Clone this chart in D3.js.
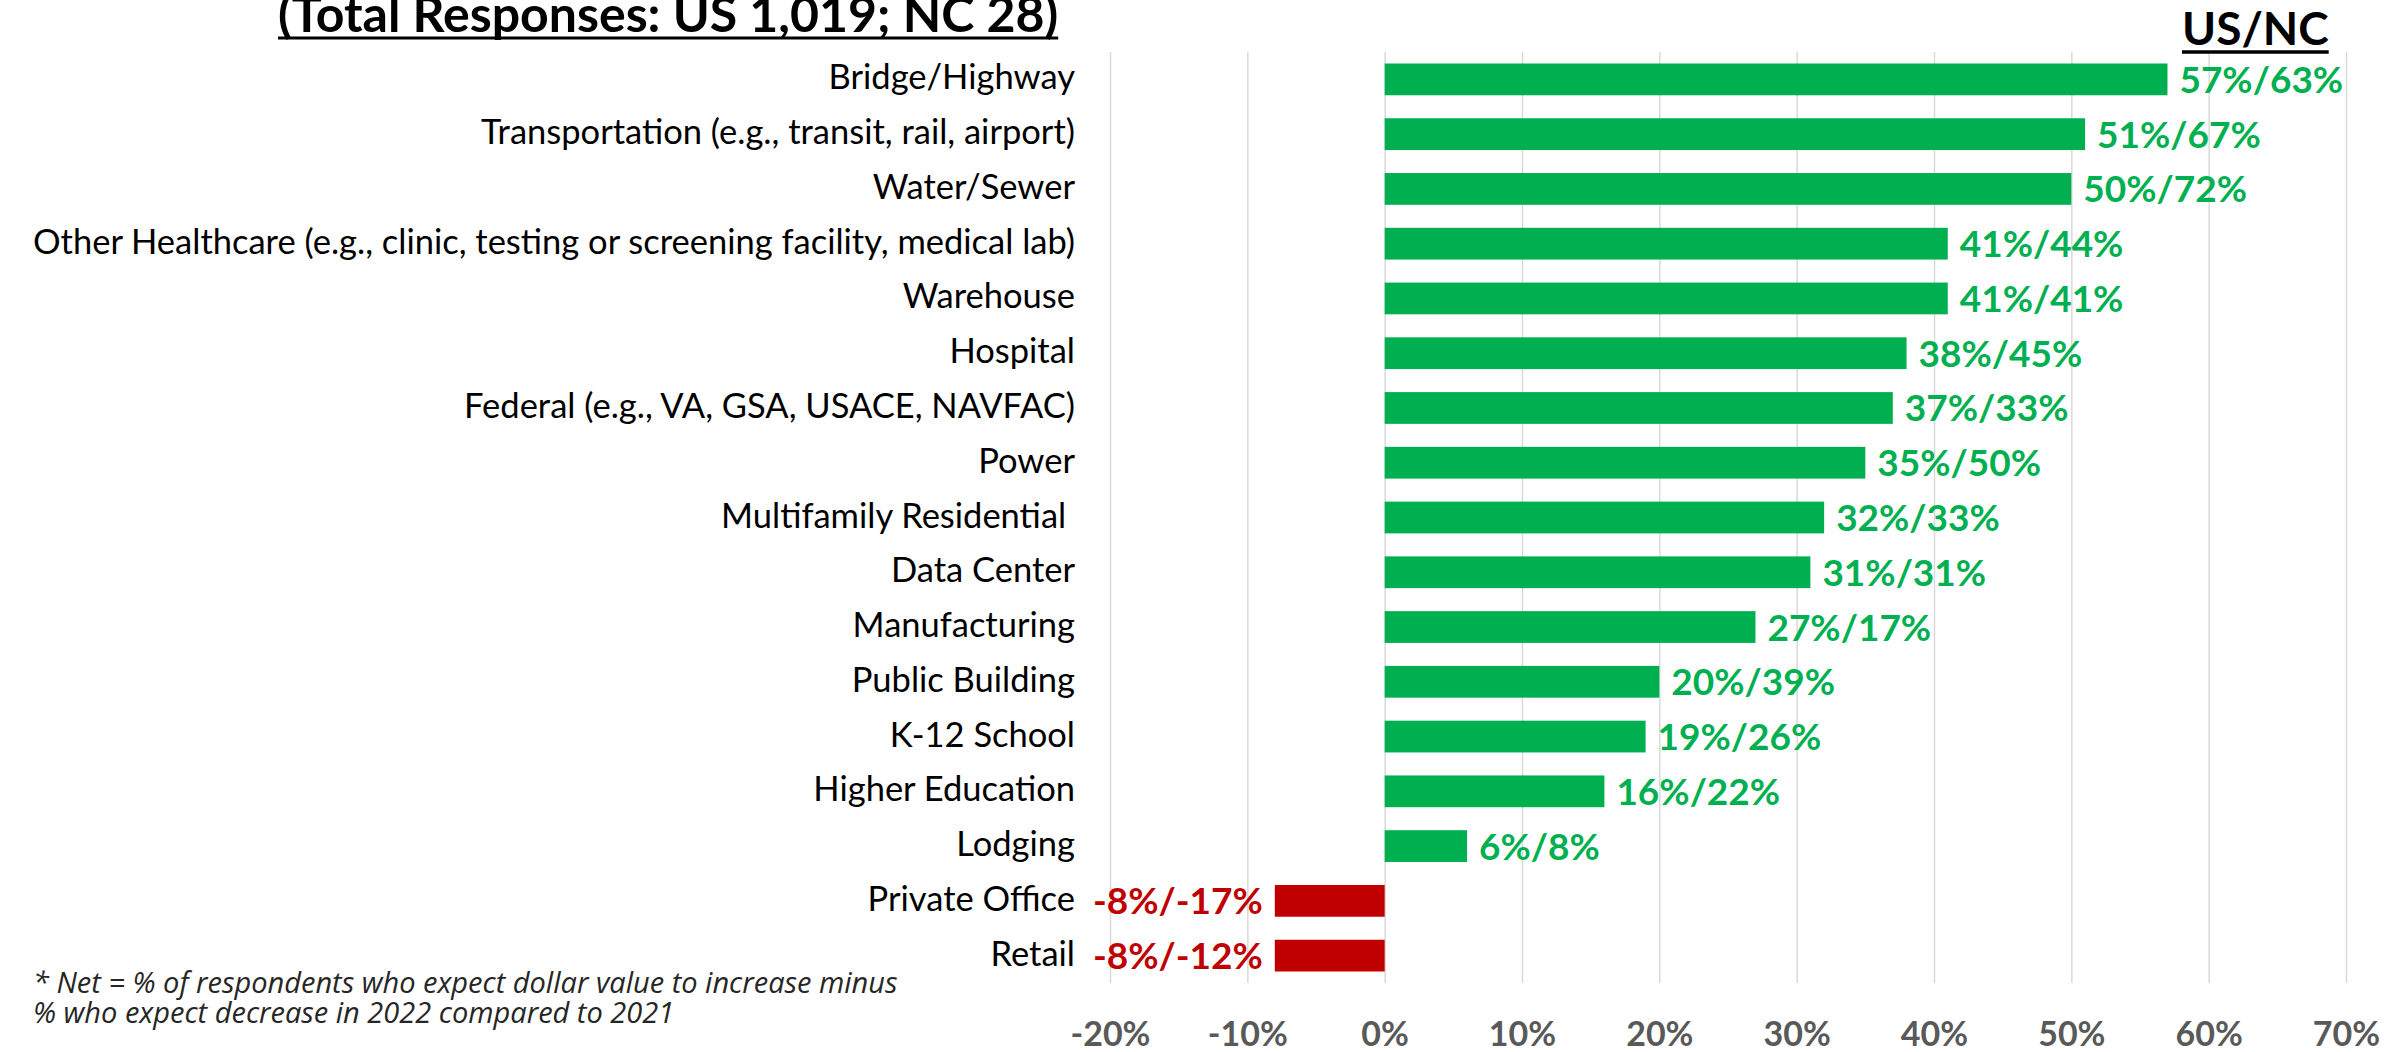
<!DOCTYPE html>
<html>
<head>
<meta charset="utf-8">
<script src="https://cdn.jsdelivr.net/npm/d3@7"></script>
<style>
  html, body { margin: 0; padding: 0; background: #fff; }
  svg { display: block; font-family: Lato, "Open Sans", sans-serif; }
</style>
</head>
<body>
<svg id="chart" width="2407" height="1052"></svg>
<script>
// Chart data
const categories = [
  'Bridge/Highway',
  'Transportation (e.g., transit, rail, airport)',
  'Water/Sewer',
  'Other Healthcare (e.g., clinic, testing or screening facility, medical lab)',
  'Warehouse',
  'Hospital',
  'Federal (e.g., VA, GSA, USACE, NAVFAC)',
  'Power',
  'Multifamily Residential ',
  'Data Center',
  'Manufacturing',
  'Public Building',
  'K-12 School',
  'Higher Education',
  'Lodging',
  'Private Office',
  'Retail'
];
const usValues = [57, 51, 50, 41, 41, 38, 37, 35, 32, 31, 27, 20, 19, 16, 6, -8, -8];
const ncValues = [63, 67, 72, 44, 41, 45, 33, 50, 33, 31, 17, 39, 26, 22, 8, -17, -12];
const tickValues = [-0.2, -0.1, 0, 0.1, 0.2, 0.3, 0.4, 0.5, 0.6, 0.7];
const titleText = '(Total Responses: US 1,019; NC 28)';
const seriesHeader = 'US/NC';
const footnote = [
  '* Net = % of respondents who expect dollar value to increase minus',
  '% who expect decrease in 2022 compared to 2021'
];

const rows = categories.map((name, i) => ({ name, us: usValues[i], nc: ncValues[i] }));

const GREEN = '#00B050';
const RED = '#C00000';

// plain hyphen for negatives, like the original
const pct = d3.formatLocale({ decimal: '.', thousands: ',', grouping: [3], currency: ['', ''], minus: '-' }).format('.0%');

const svg = d3.select('#chart');

// Scales
const x = d3.scaleLinear().domain([-0.2, 0.7]).range([1110, 2346]);
const y = d3.scaleBand()
  .domain(categories)
  .range([52, 983])
  .paddingInner(0.42)
  .paddingOuter(0.21);

// Gridlines
svg.append('g')
  .attr('transform', 'translate(0,983)')
  .call(d3.axisBottom(x).tickValues(tickValues).tickSize(-931).tickFormat(''))
  .call(g => g.select('.domain').remove())
  .call(g => g.selectAll('line').attr('stroke', '#d9d9d9').attr('stroke-width', 1.5));

// Axis labels
svg.append('g')
  .attr('transform', 'translate(0,983)')
  .call(d3.axisBottom(x).tickValues(tickValues).tickSize(0).tickFormat(pct))
  .call(g => g.select('.domain').remove())
  .call(g => g.selectAll('text')
    .attr('y', 63)
    .attr('dy', 0)
    .attr('fill', '#595959')
    .attr('font-family', 'Lato, sans-serif')
    .attr('font-weight', 'bold')
    .attr('font-size', 34));

// Bars
svg.append('g')
  .selectAll('rect')
  .data(rows)
  .join('rect')
  .attr('x', d => x(Math.min(0, d.us / 100)))
  .attr('width', d => Math.abs(x(d.us / 100) - x(0)))
  .attr('y', d => y(d.name))
  .attr('height', y.bandwidth())
  .attr('fill', d => d.us < 0 ? RED : GREEN);

// Value labels
svg.append('g')
  .selectAll('text')
  .data(rows)
  .join('text')
  .attr('x', d => d.us < 0 ? x(d.us / 100) - 12 : x(d.us / 100) + 12)
  .attr('y', d => y(d.name) + y.bandwidth() / 2 + 13.5)
  .attr('text-anchor', d => d.us < 0 ? 'end' : 'start')
  .attr('font-weight', 'bold')
  .attr('font-size', 37)
  .attr('fill', d => d.us < 0 ? RED : GREEN)
  .text(d => `${d.us}%/${d.nc}%`);

// Category labels
svg.append('g')
  .selectAll('text')
  .data(rows)
  .join('text')
  .attr('x', 1075)
  .attr('y', d => y(d.name) + y.bandwidth() / 2 + 10)
  .attr('text-anchor', 'end')
  .attr('font-size', 34.5)
  .attr('fill', '#000')
  .style('white-space', 'pre')
  .text(d => d.name);

// Title (clipped at top, underlined)
const title = svg.append('text')
  .attr('x', 278)
  .attr('y', 32)
  .attr('font-weight', 'bold')
  .attr('font-size', 50)
  .attr('fill', '#000')
  .text(titleText);
const tw = title.node().getComputedTextLength();
svg.append('line')
  .attr('x1', 278).attr('x2', 278 + tw)
  .attr('y1', 38).attr('y2', 38)
  .attr('stroke', '#000').attr('stroke-width', 3);

// Series header
const header = svg.append('text')
  .attr('x', 2182)
  .attr('y', 45)
  .attr('font-weight', 'bold')
  .attr('font-size', 46)
  .attr('fill', '#000')
  .text(seriesHeader);
const hw = header.node().getComputedTextLength();
svg.append('line')
  .attr('x1', 2182).attr('x2', 2182 + hw)
  .attr('y1', 52).attr('y2', 52)
  .attr('stroke', '#000').attr('stroke-width', 3.5);

// Footnote
svg.append('g')
  .selectAll('text')
  .data(footnote)
  .join('text')
  .attr('x', 33)
  .attr('y', (d, i) => 993 + i * 30)
  .attr('font-family', '"Open Sans", sans-serif')
  .attr('font-style', 'italic')
  .attr('font-size', 29)
  .attr('fill', '#262626')
  .text(d => d);
</script>
</body>
</html>
